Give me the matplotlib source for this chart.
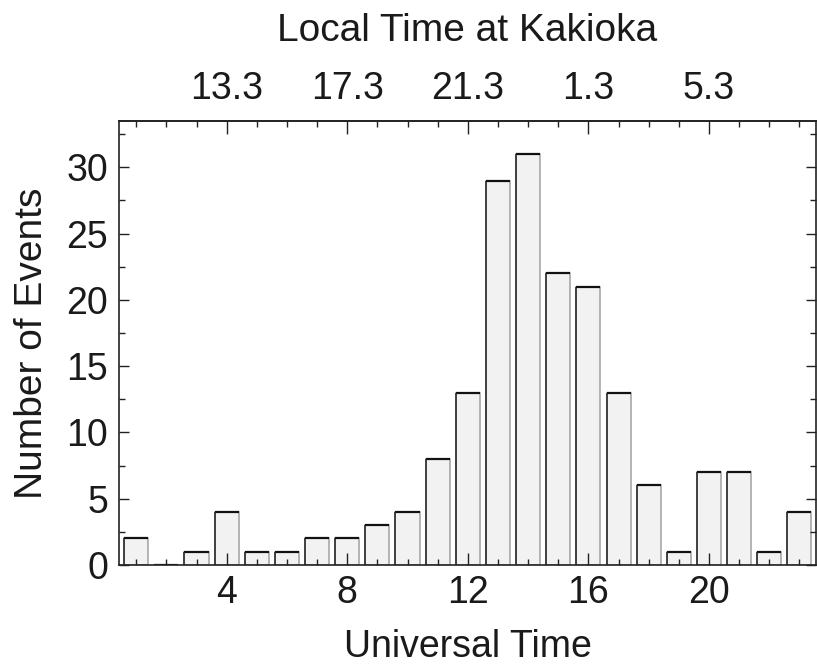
import matplotlib.pyplot as plt
import matplotlib.ticker as mticker

plt.rcParams['font.family'] = ['Liberation Sans', 'DejaVu Sans']

# events per hour of Universal Time
ut_hours = list(range(1, 24))
events = [2, 0, 1, 4, 1, 1, 2, 2, 3, 4, 8, 13, 29, 31, 22, 21, 13, 6, 1, 7, 7, 1, 4]

ut_ticks = [4, 8, 12, 16, 20]
lt_labels = ["13.3", "17.3", "21.3", "1.3", "5.3"]

bar_w = 0.8
txt = '#1a1a1a'

fig = plt.figure(figsize=(8.17, 6.69), dpi=100)
ax = fig.add_axes([0.1457, 0.1555, 0.8531, 0.6637])

# light bars with grey outline, darker top and left edges
ax.bar(ut_hours, events, width=bar_w, color='#f2f2f2', edgecolor='#a0a0a0', linewidth=1.1)
left_edges = [h - bar_w / 2 for h in ut_hours]
right_edges = [h + bar_w / 2 for h in ut_hours]
ax.hlines(events, left_edges, right_edges, color='#111111', linewidth=1.6)
ax.vlines(left_edges, 0, events, color='#222222', linewidth=1.1)

ax.set_xlim(0.43, 23.55)
ax.set_ylim(0, 33.5)

ax.set_xticks(ut_ticks)
ax.xaxis.set_minor_locator(mticker.MultipleLocator(1))
ax.yaxis.set_major_locator(mticker.MultipleLocator(5))
ax.yaxis.set_minor_locator(mticker.MultipleLocator(2.5))

ax.tick_params(which='both', direction='in', top=False, right=True, labelsize=27,
               color='#222222', labelcolor=txt)
ax.tick_params(axis='x', which='major', length=9, width=1, pad=7)
ax.tick_params(axis='x', which='minor', length=4, width=1)
ax.tick_params(axis='y', which='major', length=7, width=1, pad=8)
ax.tick_params(axis='y', which='minor', length=4, width=1)

for s in ax.spines.values():
    s.set_linewidth(1.2)
    s.set_color('#222222')

ax.set_xlabel("Universal Time", fontsize=27, labelpad=13, color=txt)
ax.set_ylabel("Number of Events", fontsize=28, labelpad=12, color=txt)

# local time axis on top
top = ax.secondary_xaxis('top')
top.set_xticks(ut_ticks)
top.set_xticklabels(lt_labels)
top.xaxis.set_minor_locator(mticker.MultipleLocator(1))
top.tick_params(which='both', direction='in', labelsize=27, color='#222222', labelcolor=txt)
top.tick_params(which='major', length=9, width=1, pad=10)
top.tick_params(which='minor', length=4, width=1)
top.spines['top'].set_linewidth(1.2)
top.spines['top'].set_color('#222222')
top.set_xlabel("Local Time at Kakioka", fontsize=28, labelpad=22, color=txt)

fig.savefig("out.png", dpi=100)
